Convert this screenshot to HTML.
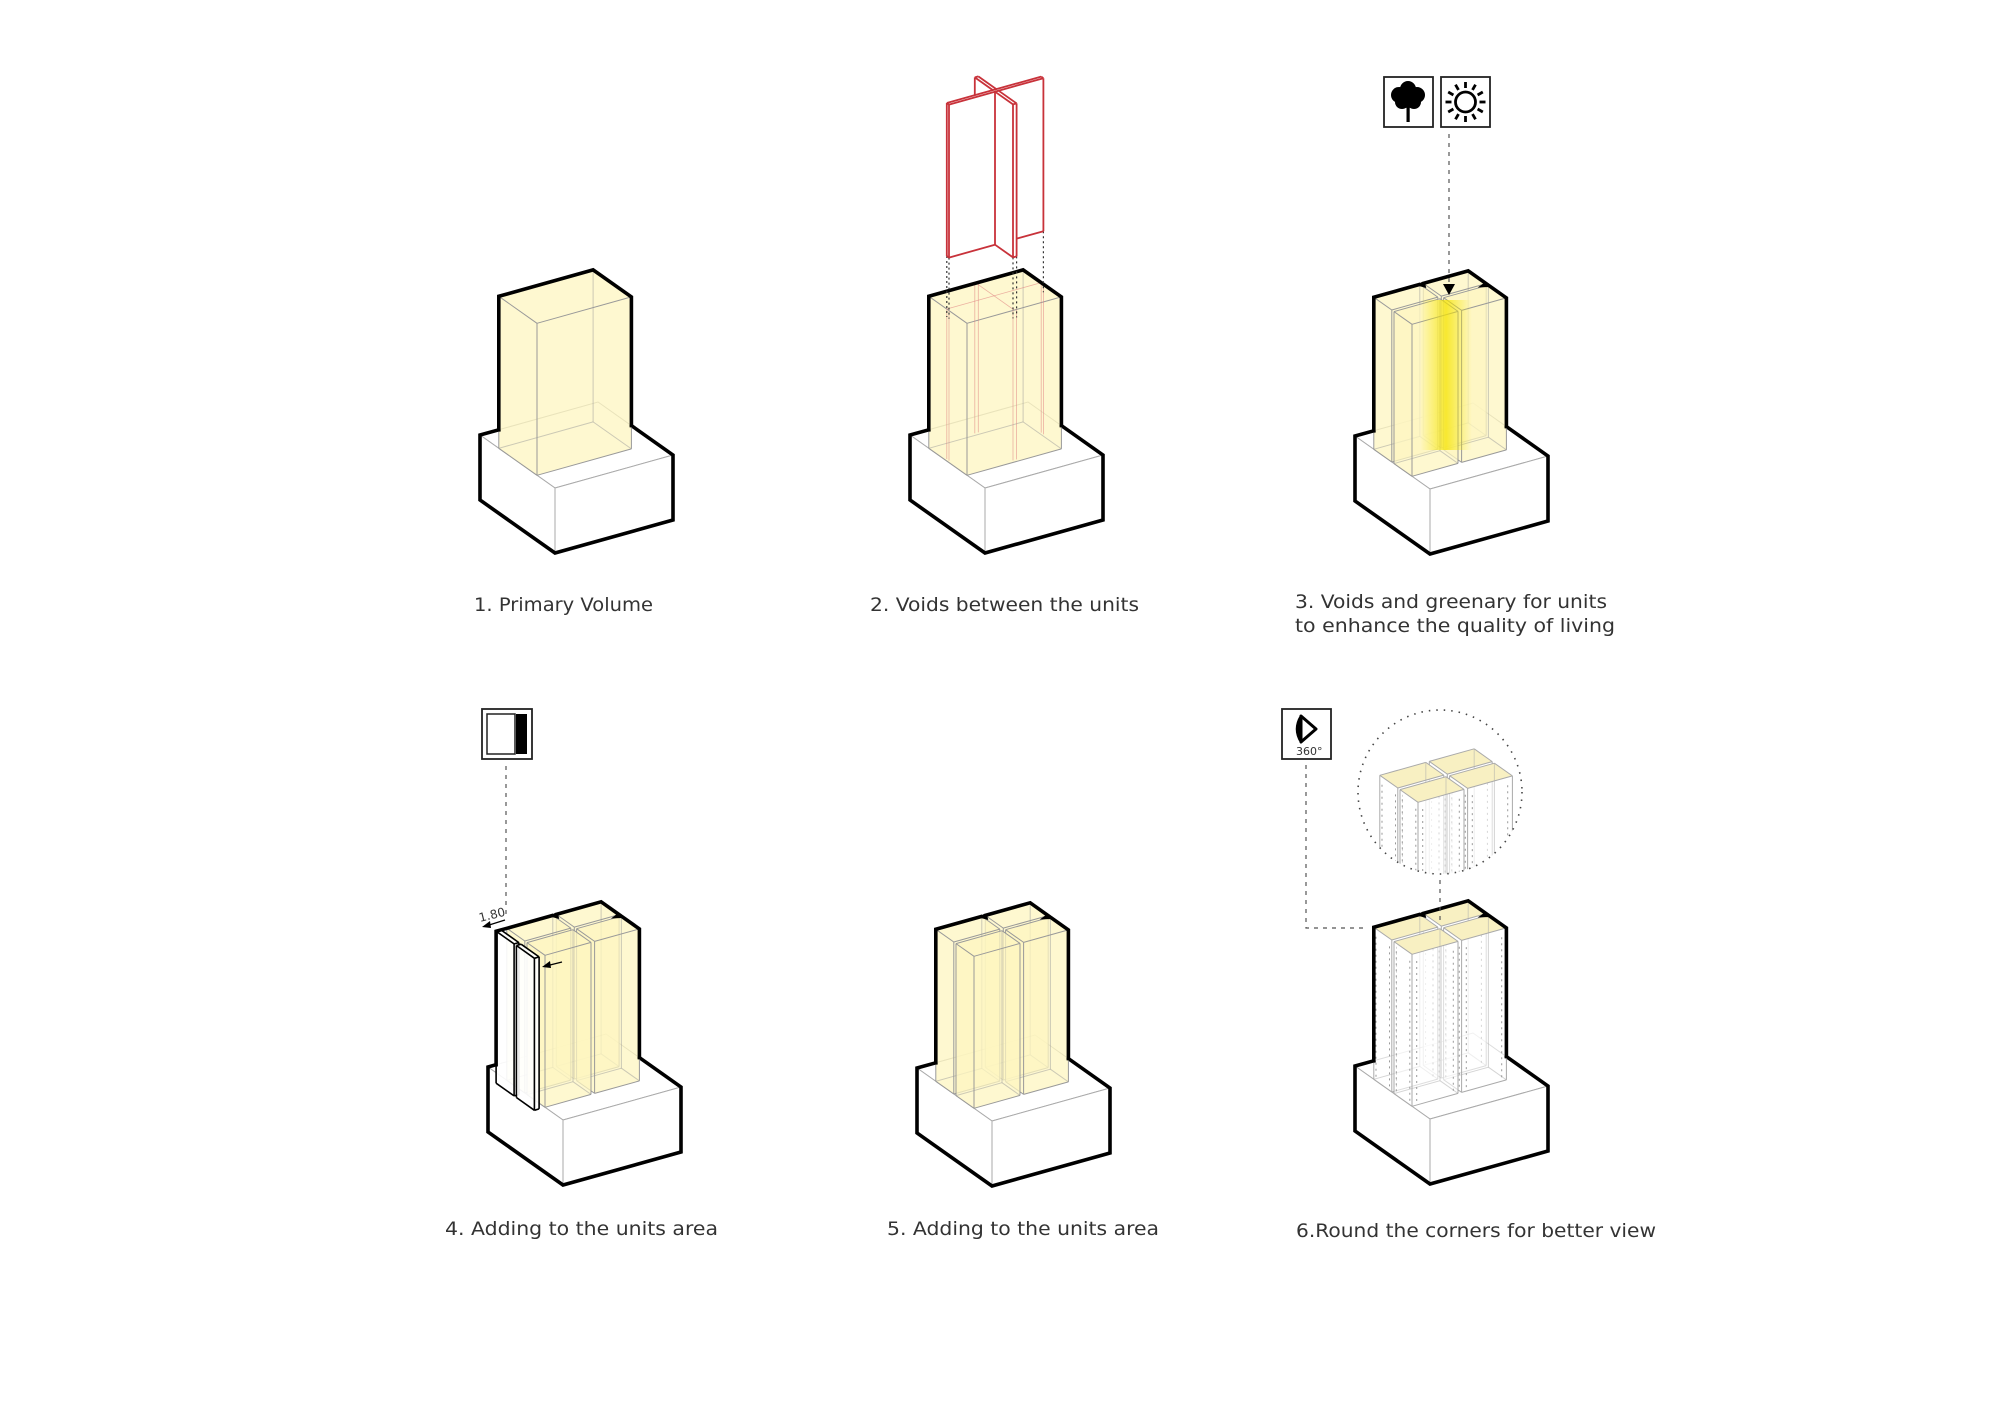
<!DOCTYPE html>
<html><head><meta charset="utf-8">
<style>
html,body{margin:0;padding:0;background:#fff;}
svg{display:block;}
text{font-family:"DejaVu Sans","Liberation Sans",sans-serif;fill:#333;}
</style></head>
<body>
<svg id="s" width="2000" height="1414" viewBox="0 0 2000 1414" xmlns="http://www.w3.org/2000/svg">
<defs>
<linearGradient id="yg" x1="0" y1="0" x2="1" y2="0">
<stop offset="0" stop-color="#f7ea00" stop-opacity="0"/>
<stop offset="0.5" stop-color="#f5e300" stop-opacity="0.75"/>
<stop offset="1" stop-color="#f7ea00" stop-opacity="0"/>
</linearGradient>
<clipPath id="cc"><circle cx="1440" cy="792" r="82"/></clipPath>
</defs>
<g id="g"></g>
<text x="474" y="611" font-size="19" textLength="179" lengthAdjust="spacingAndGlyphs">1. Primary Volume</text>
<text x="870" y="611" font-size="19" textLength="269" lengthAdjust="spacingAndGlyphs">2. Voids between the units</text>
<text x="1295" y="608" font-size="19" textLength="312" lengthAdjust="spacingAndGlyphs">3. Voids and greenary for units</text>
<text x="1295" y="632" font-size="19" textLength="320" lengthAdjust="spacingAndGlyphs">to enhance the quality of living</text>
<text x="445" y="1235" font-size="19" textLength="273" lengthAdjust="spacingAndGlyphs">4. Adding to the units area</text>
<text x="887" y="1235" font-size="19" textLength="272" lengthAdjust="spacingAndGlyphs">5. Adding to the units area</text>
<text x="1296" y="1237" font-size="19" textLength="360" lengthAdjust="spacingAndGlyphs">6.Round the corners for better view</text>
<text x="480" y="922" font-size="12" transform="rotate(-14 480 922)">1.80</text>
<text x="1296" y="755" font-size="11">360°</text>
</svg>
<script>
const S=[];
function P(o,u,v,h){return [o[0]+75*u+118*v, o[1]+53*u-33*v-h];}
function pts(a){return a.map(p=>p[0].toFixed(1)+','+p[1].toFixed(1)).join(' ');}
function poly(a,at){S.push('<polygon points="'+pts(a)+'" '+at+'/>');}
function pl(a,at){S.push('<polyline points="'+pts(a)+'" fill="none" '+at+'/>');}
const TH='stroke="#000" stroke-width="3.6" stroke-linejoin="miter" stroke-linecap="square"';
function base(o,lx,ly,rx,ry){
  const c=(u,v,h)=>P(o,u,v,h);
  poly([c(0,0,0),c(1,0,0),c(1,1,0),c(0,1,0)],'fill="#fff" stroke="#aaa" stroke-width="1"');
  poly([c(0,0,0),c(1,0,0),c(1,0,-65),c(0,0,-65)],'fill="#fff" stroke="#aaa" stroke-width="1"');
  poly([c(1,0,0),c(1,1,0),c(1,1,-65),c(1,0,-65)],'fill="#fff" stroke="#aaa" stroke-width="1"');
  pl([[o[0]+lx,o[1]+ly],c(0,0,0),c(0,0,-65),c(1,0,-65),c(1,1,-65),c(1,1,0),[o[0]+rx,o[1]+ry]],TH);
}
function box(o,u0,u1,v0,v1,h0,h1,op){
  const c=(u,v,h)=>P(o,u,v,h);
  const fill=op.fill||'#fdf5c0', fo=op.fo===undefined?0.75:op.fo, top=op.top||fill, e=op.edge||'#999', ew=op.ew||1;
  const fa='fill="'+fill+'" fill-opacity="'+fo+'" stroke="none"';
  poly([c(u0,v0,h0),c(u1,v0,h0),c(u1,v0,h1),c(u0,v0,h1)],fa);
  poly([c(u1,v0,h0),c(u1,v1,h0),c(u1,v1,h1),c(u1,v0,h1)],fa);
  poly([c(u0,v0,h1),c(u1,v0,h1),c(u1,v1,h1),c(u0,v1,h1)],'fill="'+top+'" fill-opacity="'+(op.tfo===undefined?fo:op.tfo)+'" stroke="none"');
  const ea='stroke="'+e+'" stroke-width="'+ew+'"';
  const E=[[[u0,v0],[u1,v0]],[[u1,v0],[u1,v1]],[[u1,v1],[u0,v1]],[[u0,v1],[u0,v0]]];
  if(!op.nohid){
    E.slice(2).forEach(s=>pl([c(s[0][0],s[0][1],h0),c(s[1][0],s[1][1],h0)],ea+' stroke-opacity="0.5"'));
    pl([c(u0,v1,h0),c(u0,v1,h1)],ea+' stroke-opacity="0.5"');
  }
  E.slice(0,2).forEach(s=>pl([c(s[0][0],s[0][1],h0),c(s[1][0],s[1][1],h0)],ea));
  E.forEach(s=>pl([c(s[0][0],s[0][1],h1),c(s[1][0],s[1][1],h1)],ea));
  [[u0,v0],[u1,v0],[u1,v1]].forEach(q=>pl([c(q[0],q[1],h0),c(q[0],q[1],h1)],ea));
  if(op.dots){
    const da='stroke="#999" stroke-width="1" stroke-dasharray="2 4"';
    [[u0+0.03,v0],[u1-0.03,v0],[u1,v0+0.04],[u1,v1-0.04]].forEach(q=>pl([c(q[0],q[1],h0+4),c(q[0],q[1],h1-6)],da));
  }
}
const H=152;
function sil1(o){
  const a=P(o,.25,0,H), b=P(o,.76,.8,H);
  pl([[a[0],o[1]-5.2],a,P(o,.25,.8,H),b,[b[0],o[1]-9.4]],TH);
}
function sil4(o,extra){
  const c=(u,v)=>P(o,u,v,H);
  let arr=[];
  if(extra){const s=c(.25,-.09);arr=[[s[0],o[1]-2.3],s,c(.25,0)];}
  else{const a=c(.25,0);arr=[[a[0],o[1]-5.2],a];}
  const b=c(.76,.8);
  arr=arr.concat([c(.25,.39),c(.28,.405),c(.25,.42),c(.25,.8),c(.49,.8),c(.505,.77),c(.52,.8),b,[b[0],o[1]-9.4]]);
  pl(arr,TH);
}
const B4=[[.25,.49,.42,.8],[.25,.49,0,.39],[.52,.76,.42,.8],[.52,.76,0,.39]];
function four(o,op){B4.forEach(b=>box(o,b[0],b[1],b[2],b[3],0,H,op));}
function stdBase(o){base(o,18.75,-5.2,151.4,-9.4);}

const O1=[480,435]; stdBase(O1); box(O1,.25,.76,0,.8,0,H,{}); sil1(O1);
const O2=[910,435]; stdBase(O2); box(O2,.25,.76,0,.8,0,H,{});
const RL='stroke="#e08080" stroke-width="0.8" stroke-opacity="0.6"';
[[.49,0],[.52,0],[.49,.8],[.52,.8],[.25,.39],[.25,.42],[.76,.39],[.76,.42]].forEach(q=>pl([P(O2,q[0],q[1],2),P(O2,q[0],q[1],H)],RL));
pl([P(O2,.49,0,H),P(O2,.49,.8,H)],RL);
pl([P(O2,.25,.4,H),P(O2,.76,.4,H)],RL);
sil1(O2);
[[.52,0],[.49,0],[.76,.39],[.76,.42],[.52,.8]].forEach(q=>pl([P(O2,q[0],q[1],205),P(O2,q[0],q[1],H-8)],'stroke="#333" stroke-width="1.2" stroke-dasharray="2 3"'));
const RA={fill:'#fff',fo:1,edge:'#c8323a',ew:1.8,nohid:true};
box(O2,.25,.49,.39,.42,205,358,RA);
box(O2,.49,.52,0,.8,205,358,RA);
box(O2,.52,.76,.39,.42,205,358,RA);
const O3=[1355,436]; stdBase(O3); four(O3,{});
S.push('<rect x="1420" y="300" width="52" height="150" fill="url(#yg)"/>');
sil4(O3,false);
pl([[1449,134],[1449,282]],'stroke="#555" stroke-width="1.2" stroke-dasharray="4 5"');
poly([[1443,284],[1455,284],[1449,295]],'fill="#000"');
const O4=[488,1067]; base(O4,8.1,-2.3,151.4,-9.4); four(O4,{});
const SL={fill:'#fff',fo:0.9,edge:'#000',ew:1.6,nohid:true};
box(O4,.25,.49,-.09,-.05,0,H,SL); box(O4,.52,.76,-.09,-.05,0,H,SL);
sil4(O4,true);
pl([[506,766],[506,918]],'stroke="#555" stroke-width="1.2" stroke-dasharray="4 5"');
pl([[505,920],[486,926]],'stroke="#000" stroke-width="1.2"'); poly([[482,927],[490,921],[491,928]],'fill="#000"');
pl([[562,962],[546,966]],'stroke="#000" stroke-width="1.2"'); poly([[542,967],[550,961],[551,968]],'fill="#000"');
const O5=[917,1068]; stdBase(O5); four(O5,{}); sil4(O5,false);
const O6=[1355,1066]; stdBase(O6);
S.push('<g id="t6">');
four(O6,{fill:'#fff',fo:0.6,top:'#f8f0c2',tfo:1,edge:'#aaa',dots:true});
S.push('</g>');
sil4(O6,false);
S.push('<g clip-path="url(#cc)"><rect x="1350" y="700" width="190" height="190" fill="#fff"/><use href="#t6" transform="translate(6,-152)"/></g>');
S.push('<circle cx="1440" cy="792" r="82" fill="none" stroke="#444" stroke-width="1.6" stroke-dasharray="1.5 6"/>');
pl([[1306,765],[1306,928],[1367,928]],'stroke="#555" stroke-width="1.2" stroke-dasharray="4 5"');
pl([[1440,880],[1440,925]],'stroke="#555" stroke-width="1.2" stroke-dasharray="4 5"');
S.push('<rect x="1384" y="77" width="49" height="50" fill="#fff" stroke="#222" stroke-width="1.8"/>');
S.push('<g fill="#000"><circle cx="1408" cy="89" r="8"/><circle cx="1399" cy="95" r="8"/><circle cx="1417" cy="95" r="8"/><circle cx="1402" cy="102" r="7"/><circle cx="1414" cy="102" r="7"/><circle cx="1408" cy="100" r="8"/><rect x="1406.5" y="100" width="3.2" height="22"/></g>');
S.push('<rect x="1441" y="77" width="49" height="50" fill="#fff" stroke="#222" stroke-width="1.8"/>');
S.push('<circle cx="1465.5" cy="102" r="10" fill="none" stroke="#000" stroke-width="2.8"/>');
let r='';for(let i=0;i<12;i++){const a=i*Math.PI/6,c=Math.cos(a),s=Math.sin(a);r+='<line x1="'+(1465.5+14*c).toFixed(1)+'" y1="'+(102+14*s).toFixed(1)+'" x2="'+(1465.5+20*c).toFixed(1)+'" y2="'+(102+20*s).toFixed(1)+'" stroke="#000" stroke-width="2.8"/>';}S.push(r);
S.push('<rect x="482" y="709" width="50" height="50" fill="#fff" stroke="#222" stroke-width="1.8"/><rect x="487" y="714" width="28" height="40" fill="#fff" stroke="#222" stroke-width="1.5"/><rect x="516" y="714" width="11" height="40" fill="#000"/>');
S.push('<rect x="1282" y="709" width="49" height="50" fill="#fff" stroke="#222" stroke-width="1.8"/>');
S.push('<path d="M1301,716 L1316,729 L1301,742 Z" fill="none" stroke="#000" stroke-width="3" stroke-linejoin="round"/><path d="M1301,716 Q1293,729 1301,742" fill="#000" stroke="#000" stroke-width="2.5"/>');
document.getElementById('g').innerHTML=S.join('');
</script>
</body></html>
